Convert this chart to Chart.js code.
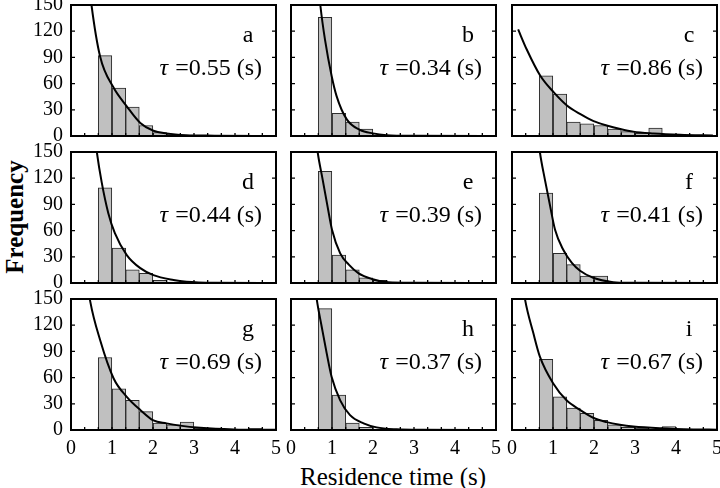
<!DOCTYPE html>
<html>
<head>
<meta charset="utf-8">
<script src="https://cdn.jsdelivr.net/npm/chart.js@4.4.0/dist/chart.umd.min.js"></script>
<style>
    body { margin: 0; background: #fff; }
    #fig { position: relative; width: 720px; height: 488px; overflow: hidden; background: #fff; font-family: "Liberation Serif", serif; }
    #fig canvas { position: absolute; }
    .lbl { position: absolute; color: #000; white-space: nowrap; line-height: 1; }
    #ylab { font-size: 25px; font-weight: bold; left: 14px; top: 217px; transform: translate(-50%, -50%) rotate(-90deg); }
    #xlab { font-size: 25px; left: 393px; top: 476px; transform: translate(-50%, -50%); }
</style>
</head>
<body>
<div id="fig">
    <div class="lbl" id="ylab">Frequency</div>
    <div class="lbl" id="xlab">Residence time (s)</div>
</div>
<script>
// Centres des classes (largeur 1/3 s, à partir de 2/3 s)
const binCenters = [0.83, 1.17, 1.5, 1.83, 2.17, 2.5, 2.83, 3.17, 3.5, 3.83, 4.17, 4.5, 4.83];

const panelNames = ['a', 'b', 'c', 'd', 'e', 'f', 'g', 'h', 'i'];
const tauValues = ['0.55', '0.34', '0.86', '0.44', '0.39', '0.41', '0.69', '0.37', '0.67'];

const yTicks = [0, 30, 60, 90, 120, 150];
const xTicks = [0, 1, 2, 3, 4, 5];

// Histogrammes
const countsA = [92, 55, 33, 12, 4, 2, 1, 0, 0, 0, 1];
const countsB = [136, 26, 16, 8, 1];
const countsC = [69, 48, 16, 14, 12, 8, 5, 3, 9];
const countsD = [109, 40, 15, 11, 3, 1];
const countsE = [128, 32, 15, 6, 3];
const countsF = [103, 34, 21, 8, 8];
const countsG = [83, 47, 34, 21, 8, 6, 9, 2, 1, 1, 0, 2];
const countsH = [139, 40, 8, 3, 1];
const countsI = [81, 38, 25, 19, 11, 6, 3, 2, 1, 4];

// Courbes d'ajustement
const fitTimeA = [0.45, 0.5, 0.71, 1.03, 1.36, 1.69, 2.01, 2.33, 2.8, 3.5, 5.0];
const fitFreqA = [172, 150, 91, 56, 34, 15, 6, 3, 1, 0.4, 0];
const fitTimeB = [0.7, 0.72, 0.83, 0.99, 1.11, 1.36, 1.68, 2.0, 2.33, 3.0, 5.0];
const fitFreqB = [158, 148, 110, 69, 46, 19, 7, 3, 1, 0.2, 0];
const fitTimeC = [0.15, 0.36, 0.69, 1.02, 1.34, 1.67, 1.99, 2.31, 2.64, 2.96, 3.45, 4.1, 4.9];
const fitFreqC = [122, 99, 69, 50, 35, 25, 17, 12, 8, 5, 3, 1.5, 0.7];
const fitTimeD = [0.6, 0.63, 0.75, 0.91, 1.07, 1.36, 1.69, 2.01, 2.5, 2.82, 3.5, 5.0];
const fitFreqD = [162, 150, 115, 80, 57, 32, 17, 9, 3.5, 1.5, 0.3, 0];
const fitTimeE = [0.62, 0.65, 0.77, 0.89, 1.0, 1.2, 1.41, 1.65, 1.97, 2.37, 3.0, 5.0];
const fitFreqE = [162, 150, 119, 88, 61, 34, 21, 11, 4.6, 0.8, 0.2, 0];
const fitTimeF = [0.65, 0.68, 0.8, 0.93, 1.05, 1.25, 1.46, 1.66, 1.98, 2.47, 2.88, 5.0];
const fitFreqF = [162, 150, 119, 88, 61, 38, 23, 14, 6, 1, 0.2, 0];
const fitTimeG = [0.43, 0.47, 0.71, 1.04, 1.36, 1.69, 2.01, 2.33, 2.66, 3.15, 3.96, 5.0];
const fitFreqG = [160, 147, 103, 59, 38, 23, 11, 7.6, 5, 2.6, 0.7, 0.2];
const fitTimeH = [0.6, 0.63, 0.75, 0.87, 0.99, 1.2, 1.44, 1.77, 2.09, 2.58, 3.2, 5.0];
const fitFreqH = [160, 149, 118, 88, 61, 34, 17, 7.6, 3, 0.8, 0.2, 0];
const fitTimeI = [0.28, 0.32, 0.52, 0.68, 1.01, 1.33, 1.66, 1.98, 2.31, 2.63, 2.96, 3.61, 4.42, 5.0];
const fitFreqI = [162, 149, 111, 84, 53, 34, 23, 14, 9, 6, 4, 2, 0.7, 0.4];

const allCounts = [countsA, countsB, countsC, countsD, countsE, countsF, countsG, countsH, countsI];
const allFitT = [fitTimeA, fitTimeB, fitTimeC, fitTimeD, fitTimeE, fitTimeF, fitTimeG, fitTimeH, fitTimeI];
const allFitF = [fitFreqA, fitFreqB, fitFreqC, fitFreqD, fitFreqE, fitFreqF, fitFreqG, fitFreqH, fitFreqI];

// Mise en page
const colLeft = [71, 291, 512];
const rowTop = [5, 152, 299];
const plotW = 205, plotH = 131;
const YW = 45, XH = 34, PADT = 14, PADR = 9;
const serif = '"Liberation Serif", "Times New Roman", serif';

// Cadre + graduations vers l'intérieur + annotations
const framePlugin = {
    id: 'frame',
    afterDraw(chart, args, opts) {
        const { ctx, chartArea: a, scales } = chart;
        const x = scales.x, y = scales.y;
        ctx.save();
        ctx.strokeStyle = '#000';
        ctx.lineWidth = 1.3;
        ctx.beginPath();
        for (let k = 0; k <= 15; k++) {
            const px = x.getPixelForValue(k / 3);
            ctx.moveTo(px, a.bottom);
            ctx.lineTo(px, a.bottom - 3);
        }
        yTicks.forEach(v => {
            const py = y.getPixelForValue(v);
            ctx.moveTo(a.left, py);
            ctx.lineTo(a.left + 4, py);
            ctx.moveTo(a.right, py);
            ctx.lineTo(a.right - 4, py);
        });
        ctx.stroke();
        ctx.lineWidth = 2;
        ctx.strokeRect(a.left, a.top, a.right - a.left, a.bottom - a.top);

        ctx.fillStyle = '#000';
        ctx.textBaseline = 'middle';
        ctx.textAlign = 'center';
        ctx.font = '24px ' + serif;
        ctx.fillText(opts.letter, a.right - 28, a.top + 31);
        ctx.textAlign = 'right';
        const rest = ' =' + opts.tau + ' (s)';
        ctx.fillText(rest, a.right - 14, a.top + 64);
        const w = ctx.measureText(rest).width;
        ctx.font = 'italic 24px ' + serif;
        ctx.fillText('\u03c4', a.right - 14 - w - 1, a.top + 64);
        ctx.restore();
    }
};

const fig = document.getElementById('fig');

for (let p = 0; p < 9; p++) {
    const col = p % 3, row = Math.floor(p / 3);
    const canvas = document.createElement('canvas');
    canvas.width = YW + plotW + PADR;
    canvas.height = PADT + plotH + XH;
    canvas.style.left = (colLeft[col] - YW) + 'px';
    canvas.style.top = (rowTop[row] - PADT) + 'px';
    fig.appendChild(canvas);

    const bars = allCounts[p].map((c, i) => ({ x: binCenters[i], y: c }));
    const fit = allFitT[p].map((t, i) => ({ x: t, y: allFitF[p][i] }));

    new Chart(canvas.getContext('2d'), {
        type: 'bar',
        data: {
            datasets: [
                {
                    type: 'line',
                    data: fit,
                    borderColor: '#000',
                    borderWidth: 2,
                    pointRadius: 0,
                    cubicInterpolationMode: 'monotone',
                    fill: false,
                    order: 0
                },
                {
                    type: 'bar',
                    data: bars,
                    backgroundColor: '#c0c0c0',
                    borderColor: '#2a2a2a',
                    borderWidth: 1,
                    borderSkipped: 'bottom',
                    barPercentage: 1,
                    categoryPercentage: 1,
                    order: 1
                }
            ]
        },
        options: {
            responsive: false,
            animation: false,
            events: [],
            layout: { padding: { top: PADT, right: PADR, left: 0, bottom: 0 } },
            plugins: {
                legend: { display: false },
                tooltip: { enabled: false },
                frame: { letter: panelNames[p], tau: tauValues[p] }
            },
            scales: {
                x: {
                    type: 'linear',
                    min: 0, max: 5,
                    offset: false,
                    grid: { display: false, drawTicks: false },
                    border: { display: false },
                    afterBuildTicks: s => { s.ticks = xTicks.map(v => ({ value: v })); },
                    afterFit: s => { s.height = XH; s.paddingLeft = 0; s.paddingRight = 0; },
                    ticks: {
                        display: row === 2,
                        autoSkip: false,
                        padding: 7,
                        maxRotation: 0,
                        color: '#000',
                        font: { family: serif, size: 20 }
                    }
                },
                y: {
                    min: 0, max: 150,
                    grid: { display: false, drawTicks: false },
                    border: { display: false },
                    afterBuildTicks: s => { s.ticks = yTicks.map(v => ({ value: v })); },
                    afterFit: s => { s.width = YW; s.paddingTop = 0; s.paddingBottom = 0; },
                    ticks: {
                        display: col === 0,
                        autoSkip: false,
                        padding: 8,
                        color: '#000',
                        font: { family: serif, size: 20 }
                    }
                }
            }
        },
        plugins: [framePlugin]
    });
}
</script>
</body>
</html>
